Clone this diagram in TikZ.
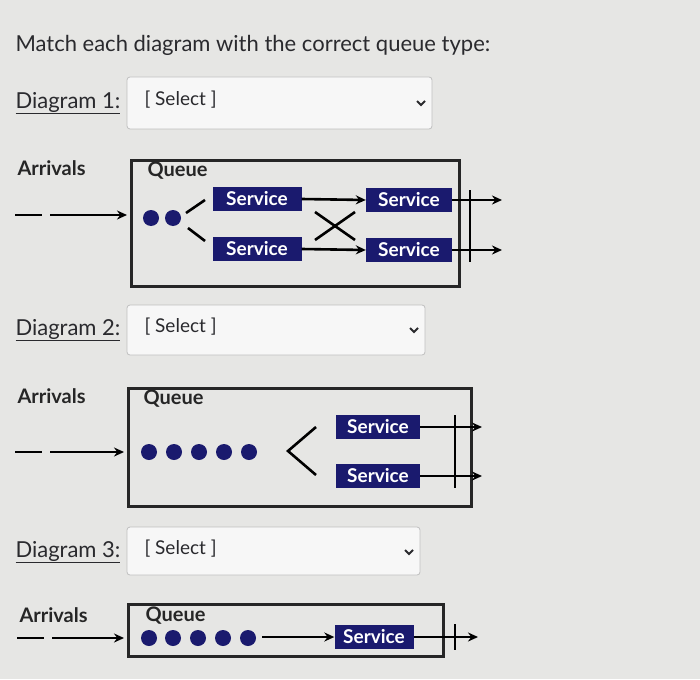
\documentclass[tikz,border=0pt]{standalone}
\usepackage{fontspec}
\setmainfont{Lato}
\usetikzlibrary{arrows.meta}
\definecolor{bg}{HTML}{E6E6E4}
\definecolor{navy}{HTML}{1A1A6E}
\definecolor{txt}{HTML}{2A2A2E}
\begin{document}
\begin{tikzpicture}[x=1pt,y=-1pt,
 lbl/.style={anchor=west,text=txt,font=\fontsize{22}{22}\selectfont},
 sel/.style={draw=black!25,fill=black!3,rounded corners=3pt,line width=0.8pt},
 seltxt/.style={anchor=west,text=txt,font=\fontsize{19}{19}\selectfont},
 bold/.style={anchor=west,font=\bfseries\fontsize{20}{20}\selectfont,text=black!85},
 frame/.style={draw=black!85,line width=3pt},
 svc/.style={fill=navy,text=white,font=\bfseries\fontsize{19}{19}\selectfont,inner sep=0pt,minimum height=24pt},
 dot/.style={circle,fill=navy,inner sep=0pt,minimum size=16pt},
 ar/.style={line width=2.6pt,-{Stealth[length=10pt,width=9pt]}},
 ln/.style={line width=2.6pt}]
\fill[bg] (0,0) rectangle (700,679);
\useasboundingbox (0,0) rectangle (700,679);
\node[lbl] (title) at (12,45) {Match each diagram with the correct queue type:};
% selects
\foreach \n/\y/\xa/\xb/\ya/\yb in {1/103/127/432/77/129, 2/330/127/425/305/355, 3/552/127/420/527/575}{
 \node[lbl] (d\n) at (12,\y) {\underline{Diagram \n:}};
 \draw[sel] (\xa,\ya) rectangle (\xb,\yb);
 \node[seltxt] (s\n) at (\xa+14,\y-3) {[ Select ]};
 \draw[line width=1.8pt,txt] (\xb-15,\y-2) -- (\xb-11,\y+2) -- (\xb-7,\y-2);
}
% Diagram 1
\node[bold] (a1) at (14,168) {Arrivals};
\draw[frame] (131,160) rectangle (459,286);
\node[bold] (q1) at (144,171) {Queue};
\draw[ln] (15,215) -- (42,215);
\draw[ar] (50,215) -- (127,215);
\node[dot] (p1) at (151,218) {};
\node[dot] (p2) at (173,218) {};
\draw[ln] (205,200) -- (186,213);
\draw[ln] (188,228) -- (205,241);
\node[svc,minimum width=89pt] (sa) at (257,199) {Service};
\node[svc,minimum width=89pt] (sb) at (257,249) {Service};
\node[svc,minimum width=86pt] (sc) at (409,200) {Service};
\node[svc,minimum width=86pt] (sd) at (409,250) {Service};
\draw[ar] (sa.east) -- (sc.west);
\draw[ar] (sb.east) -- (sd.west);
\draw[ln] (315,212) -- (355,240);
\draw[ln] (315,240) -- (355,212);
\draw[ar] (sc.east) -- (502,200);
\draw[ar] (sd.east) -- (502,250);
\draw[ln] (470,190) -- (470,262);
% Diagram 2
\node[bold] (a2) at (14,396) {Arrivals};
\draw[frame] (128,388) rectangle (471,506);
\node[bold] (q2) at (140,399) {Queue};
\draw[ln] (15,452) -- (42,452);
\draw[ar] (50,452) -- (124,452);
\foreach \i/\x in {1/149,2/174,3/199,4/224,5/249}{\node[dot] (r\i) at (\x,452) {};}
\draw[ln] (316,427) -- (288,451) -- (316,475);
\node[svc,minimum width=84pt] (se) at (378,427) {Service};
\node[svc,minimum width=84pt] (sf) at (378,476) {Service};
\draw[ar] (se.east) -- (482,427);
\draw[ar] (sf.east) -- (482,476);
\draw[ln] (455,415) -- (455,488);
% Diagram 3
\node[bold] (a3) at (16,615) {Arrivals};
\draw[frame] (128,604) rectangle (443,656);
\node[bold] (q3) at (142,616) {Queue};
\draw[ln] (17,638) -- (44,638);
\draw[ar] (52,638) -- (124,638);
\foreach \i/\x in {1/149,2/173,3/198,4/223,5/248}{\node[dot] (t\i) at (\x,638) {};}
\node[svc,minimum width=79pt] (sg) at (374,637) {Service};
\draw[ar] (262,637) -- (sg.west);
\draw[ar] (sg.east) -- (478,637);
\draw[ln] (455,624) -- (455,650);
\end{tikzpicture}
\end{document}
